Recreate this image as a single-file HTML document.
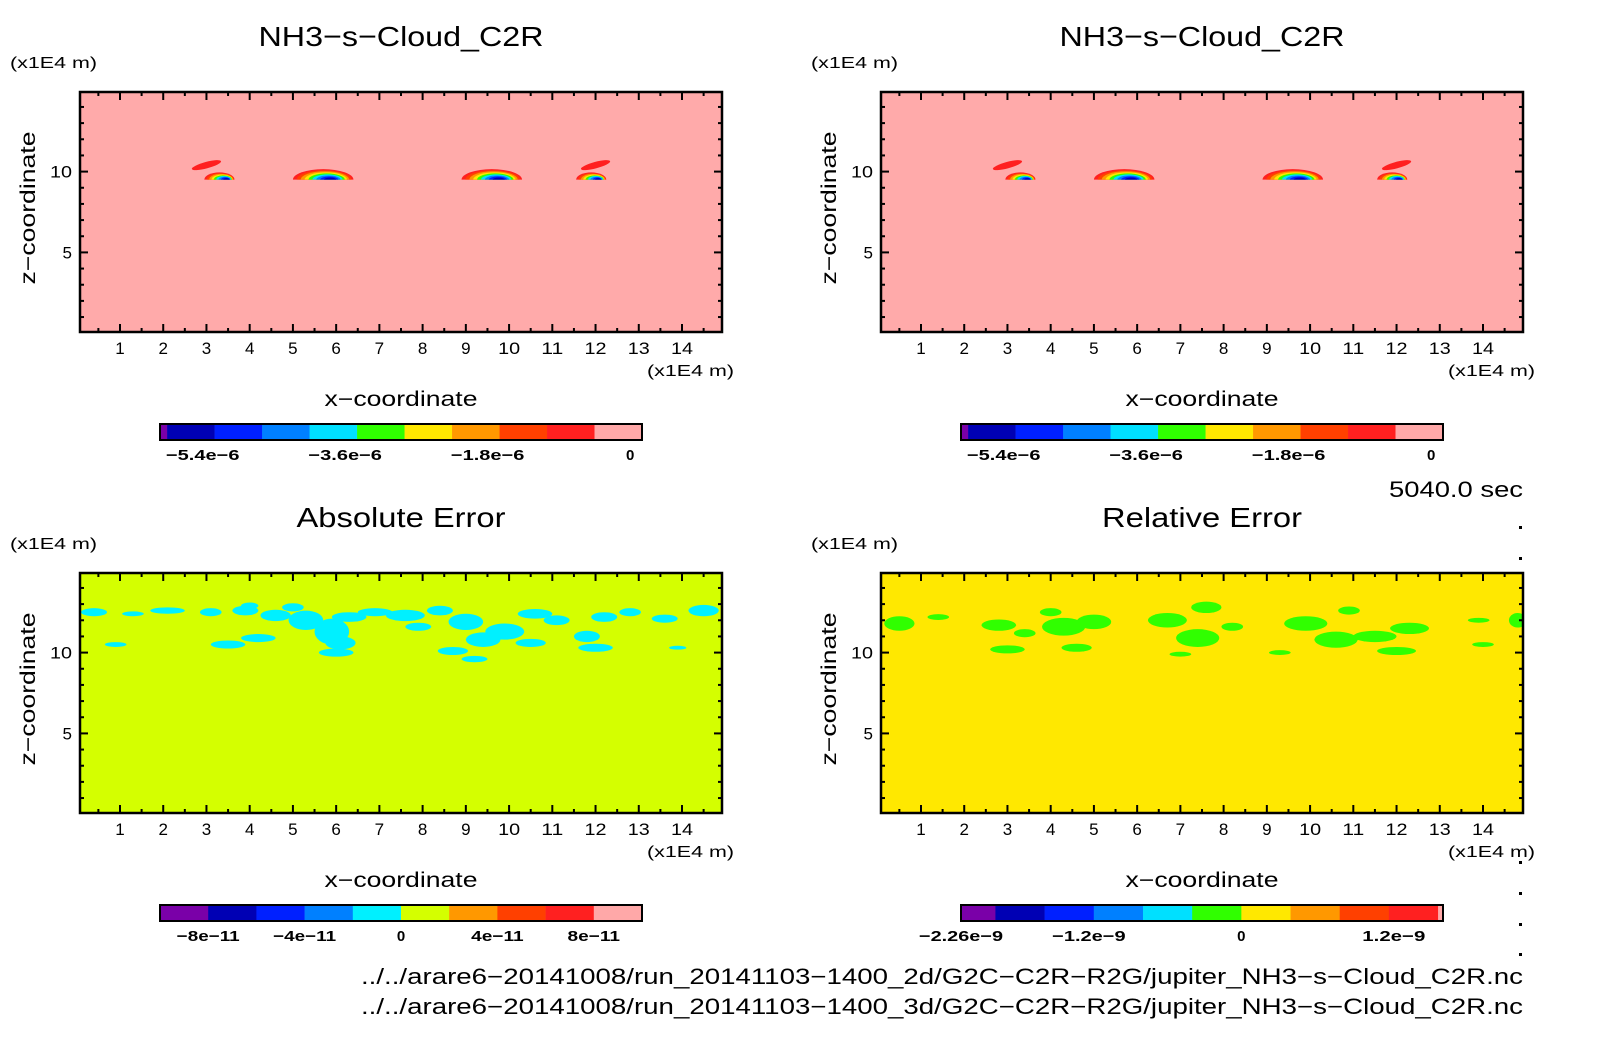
<!DOCTYPE html>
<html><head><meta charset="utf-8">
<style>
html,body{margin:0;padding:0;background:#fff;}
svg{display:block;font-family:"Liberation Sans",sans-serif;}
</style></head>
<body>
<svg id="fig" width="1604" height="1054" viewBox="0 0 1604 1054" xmlns="http://www.w3.org/2000/svg"></svg>
<script>
// ---- data ----
const xTicks = [1,2,3,4,5,6,7,8,9,10,11,12,13,14];
const zTicks = [5,10];
const cb1Colors = ["#7a00a8","#0000b4","#0020ff","#0080ff","#00e0ff","#30ff00","#ffe800","#ff9800","#ff4000","#ff2020","#ffa8a8"];
const cb1Widths = [0.15,1,1,1,1,1,1,1,1,1,1];
const cb1Labels = ["-5.4e-6","-3.6e-6","-1.8e-6","0"];
const cb1LabelPos = [0.9,3.9,6.9,9.9];
const cb2Colors = ["#7a00a8","#0000b4","#0020ff","#0080ff","#00f0ff","#d4ff00","#ff9800","#ff4000","#ff2020","#ffa8a8"];
const cb2Widths = [1,1,1,1,1,1,1,1,1,1];
const cb2Labels = ["-8e-11","-4e-11","0","4e-11","8e-11"];
const cb2LabelPos = [1,3,5,7,9];
const cb3Colors = ["#7a00a8","#0000b4","#0020ff","#0080ff","#00e0ff","#30ff00","#ffe800","#ff9800","#ff4000","#ff2020","#ffa8a8"];
const cb3Widths = [0.7,1,1,1,1,1,1,1,1,1,0.1];
const cb3Labels = ["-2.26e-9","-1.2e-9","0","1.2e-9"];
const cb3LabelPos = [0,2.6,5.7,8.8];
// cloud features: [x, z, rx, rz]
const cloudArcs = [[3.3,9.5,0.35,0.45],[5.7,9.5,0.7,0.65],[9.6,9.5,0.7,0.65],[11.9,9.5,0.35,0.45]];
const cloudStreaks = [[3.0,10.4,0.35,0.2],[12.0,10.4,0.35,0.2]];
const absBlobs = [[0.4,12.5,0.3,0.25],[1.3,12.4,0.25,0.15],[2.1,12.6,0.4,0.2],[3.1,12.5,0.25,0.25],[3.9,12.6,0.3,0.3],[4.6,12.3,0.35,0.35],[5.3,12.0,0.4,0.6],[5.9,11.3,0.4,0.8],[6.1,10.6,0.35,0.4],[6.3,12.2,0.4,0.3],[6.9,12.5,0.4,0.25],[7.6,12.3,0.45,0.35],[8.4,12.6,0.3,0.3],[9.0,11.9,0.4,0.5],[9.4,10.8,0.4,0.45],[9.9,11.3,0.45,0.5],[10.6,12.4,0.4,0.3],[11.1,12.0,0.3,0.3],[11.8,11.0,0.3,0.35],[12.2,12.2,0.3,0.3],[12.8,12.5,0.25,0.25],[13.6,12.1,0.3,0.25],[14.5,12.6,0.35,0.35],[0.9,10.5,0.25,0.15],[3.5,10.5,0.4,0.25],[4.2,10.9,0.4,0.25],[6.0,10.0,0.4,0.25],[8.7,10.1,0.35,0.25],[10.5,10.6,0.35,0.25],[12.0,10.3,0.4,0.25],[13.9,10.3,0.2,0.12],[5.0,12.8,0.25,0.25],[7.9,11.6,0.3,0.25],[4.0,12.9,0.2,0.2],[9.2,9.6,0.3,0.2]];
const relBlobs = [[0.5,11.8,0.35,0.45],[1.4,12.2,0.25,0.18],[2.8,11.7,0.4,0.35],[3.4,11.2,0.25,0.25],[4.3,11.6,0.5,0.55],[4.0,12.5,0.25,0.25],[5.0,11.9,0.4,0.45],[3.0,10.2,0.4,0.25],[4.6,10.3,0.35,0.25],[6.7,12.0,0.45,0.45],[7.4,10.9,0.5,0.55],[7.6,12.8,0.35,0.35],[8.2,11.6,0.25,0.25],[9.9,11.8,0.5,0.45],[10.6,10.8,0.5,0.5],[10.9,12.6,0.25,0.25],[11.5,11.0,0.5,0.35],[12.3,11.5,0.45,0.35],[12.0,10.1,0.45,0.25],[13.9,12.0,0.25,0.15],[14.8,12.0,0.2,0.45],[14.0,10.5,0.25,0.15],[9.3,10.0,0.25,0.15],[7.0,9.9,0.25,0.15]];

const NS="http://www.w3.org/2000/svg";
const fig=document.getElementById('fig');
function mk(tag,attrs,parent){const e=document.createElementNS(NS,tag);for(const k in attrs)e.setAttribute(k,attrs[k]);(parent||fig).appendChild(e);return e;}
function txt(s,x,y,size,anchor,parent,len){const t=mk('text',{x:x,y:y,'font-size':size,'text-anchor':anchor||'start',fill:'#000'},parent);
  if(len){t.setAttribute('textLength',len);t.setAttribute('lengthAdjust','spacingAndGlyphs');}
  t.textContent=s;return t;}

const PW=642, PH=240, XMIN=0.075, XMAX=14.925;
function panel(x0,y0,name,title,tlen,bg,drawFn){
  const g=mk('g',{});
  
  
  const sx=x=>x0+(x-XMIN)/(XMAX-XMIN)*PW;
  const sy=z=>y0+PH-(z-XMIN)/(XMAX-XMIN)*PH;
  const t=txt(title,x0+PW/2,y0-46,28,'middle',g,tlen);
  
  
  const u=txt('(x1E4 m)',x0-70,y0-24,16,'start',g,87);
  
  
  const bgr=mk('rect',{x:x0,y:y0,width:PW,height:PH,fill:bg},g);
  
  
  const clip='clip'+x0+'_'+y0;
  const cp=mk('clipPath',{id:clip},g);mk('rect',{x:x0,y:y0,width:PW,height:PH},cp);
  const cg=mk('g',{'clip-path':'url(#'+clip+')'},g);
  drawFn(cg,sx,sy);
  for(let v=0.5;v<15;v+=0.5){
    const X=sx(v), L=(v%1===0)?8:4;
    mk('line',{x1:X,y1:y0,x2:X,y2:y0+L,stroke:'#000','stroke-width':2},g);
    mk('line',{x1:X,y1:y0+PH,x2:X,y2:y0+PH-L,stroke:'#000','stroke-width':2},g);
  }
  for(let v=1;v<15;v++){
    const Y=sy(v), L=(v%5===0)?8:4;
    mk('line',{x1:x0,y1:Y,x2:x0+L,y2:Y,stroke:'#000','stroke-width':2},g);
    mk('line',{x1:x0+PW,y1:Y,x2:x0+PW-L,y2:Y,stroke:'#000','stroke-width':2},g);
  }
  xTicks.forEach(v=>{const l=txt(String(v),sx(v),y0+PH+22,17,'middle',g,v>=10?22:null);
    
    });
  zTicks.forEach(v=>{const l=txt(String(v),x0-8,sy(v)+6,17,'end',g,v>=10?22:null);
    
    });
  mk('rect',{x:x0,y:y0,width:PW,height:PH,fill:'none',stroke:'#000','stroke-width':2.5},g);
  const xu=txt('(x1E4 m)',x0+PW+12,y0+PH+44,16,'end',g,87);
  
  
  const xt=txt('x\u2212coordinate',x0+PW/2,y0+PH+74,21,'middle',g,153);
  
  
  const zt=txt('z\u2212coordinate',0,0,21,'middle',g,153);
  zt.setAttribute('transform','translate('+(x0-45)+','+(y0+PH/2-4)+') rotate(-90)');
  
  
  return {sx,sy,g};
}
function colorbar(x,y,w,colors,widths,labels,pos,name){
  const g=mk('g',{});
  
  
  const tot=widths.reduce((a,b)=>a+b,0); let cx=x;
  colors.forEach((c,i)=>{const ww=widths[i]/tot*w;
    const r=mk('rect',{x:cx,y:y,width:ww+0.3,height:16,fill:c},g);
    
    
    cx+=ww;});
  mk('rect',{x:x,y:y,width:w,height:16,fill:'none',stroke:'#000','stroke-width':2},g);
  const unit=w/tot;
  labels.forEach((s,i)=>{const l=txt(s.replace(/-/g,'\u2212'),x+pos[i]*unit,y+36,15,'middle',g,s.length>1?s.length*10.5:null);
    l.setAttribute('font-weight','bold');
    
    });
}
function ell(g,sx,sy,b,fill){
  return mk('ellipse',{cx:sx(b[0]),cy:sy(b[1]),rx:b[2]/(XMAX-XMIN)*PW,ry:b[3]/(XMAX-XMIN)*PH,fill:fill},g);
}
let cid=0;
function cloudDraw(g,sx,sy){
  const ring=["#ff2020","#ff4000","#ff9800","#ffe800","#30ff00","#00e0ff","#0080ff","#0020ff","#0000b4"];
  cloudStreaks.forEach(b=>{const e=ell(g,sx,sy,b,'#ff2020');
    e.setAttribute('transform','rotate(-15 '+sx(b[0])+' '+sy(b[1])+')');
    
    });
  cloudArcs.forEach(b=>{
    const cp='cl'+(cid++);
    const c=mk('clipPath',{id:cp},g);
    mk('rect',{x:sx(b[0])-200,y:sy(b[1]+3),width:400,height:sy(b[1])-sy(b[1]+3)},c);
    const ag=mk('g',{'clip-path':'url(#'+cp+')'},g);
    
    
    ring.forEach((col,i)=>{const f=1-i*0.1;
      ell(ag,sx,sy,[b[0]+i*0.02,b[1],b[2]*f,b[3]*f],col);});
  });
}
panel(80,92,'panel-cloud-2d','NH3\u2212s\u2212Cloud_C2R',285,'#ffaaaa',cloudDraw);
panel(881,92,'panel-cloud-3d','NH3\u2212s\u2212Cloud_C2R',285,'#ffaaaa',cloudDraw);
panel(80,573,'panel-absolute-error','Absolute Error',209,'#d4ff00',(g,sx,sy)=>{
  absBlobs.forEach(b=>{const e=ell(g,sx,sy,b,'#00f0ff');
    
    });});
panel(881,573,'panel-relative-error','Relative Error',200,'#ffe800',(g,sx,sy)=>{
  relBlobs.forEach(b=>{const e=ell(g,sx,sy,b,'#30ff00');
    
    });});
colorbar(160,424,482,cb1Colors,cb1Widths,cb1Labels,cb1LabelPos,'colorbar-cloud-2d');
colorbar(961,424,482,cb1Colors,cb1Widths,cb1Labels,cb1LabelPos,'colorbar-cloud-3d');
colorbar(160,905,482,cb2Colors,cb2Widths,cb2Labels,cb2LabelPos,'colorbar-absolute-error');
colorbar(961,905,482,cb3Colors,cb3Widths,cb3Labels,cb3LabelPos,'colorbar-relative-error');
const tm=txt('5040.0 sec',1523,497,22,'end',null,134);


const f1=txt('../../arare6\u221220141008/run_20141103\u22121400_2d/G2C\u2212C2R\u2212R2G/jupiter_NH3\u2212s\u2212Cloud_C2R.nc',1523,984,22,'end',null,1162);


const f2=txt('../../arare6\u221220141008/run_20141103\u22121400_3d/G2C\u2212C2R\u2212R2G/jupiter_NH3\u2212s\u2212Cloud_C2R.nc',1523,1014,22,'end',null,1162);


[526,557,861,892,923,953].forEach(y=>{const d=mk('rect',{x:1519,y:y,width:3,height:3,fill:'#000'});
  
  });
</script>
</body></html>
